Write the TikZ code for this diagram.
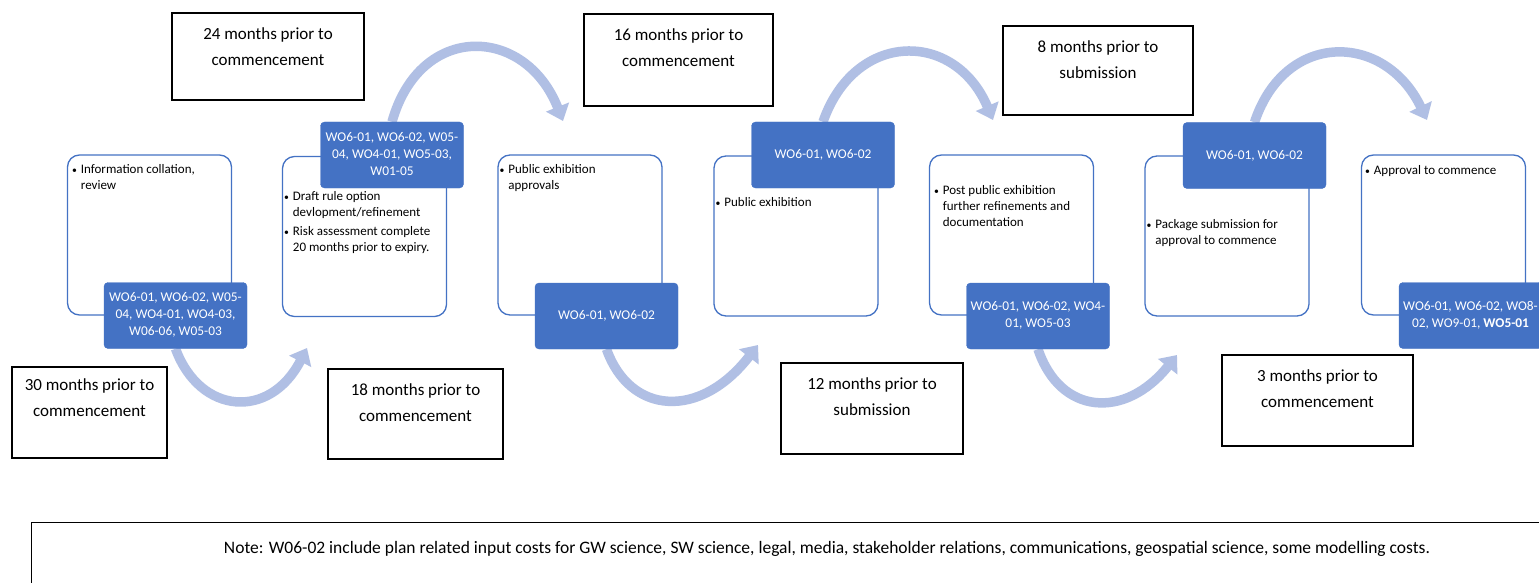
\documentclass[tikz,border=0pt]{standalone}
\usepackage{fontspec}
\setmainfont{Carlito}
\usetikzlibrary{arrows.meta}
\definecolor{obl}{HTML}{4472C4}
\definecolor{arr}{RGB}{176,191,228}
\pgfdeclarelayer{bg}
\pgfsetlayers{bg,main}
\newcommand{\bulist}[1]{\begin{tabular}{@{}l@{\hspace{4pt}}l@{}}#1\end{tabular}}
\newcommand{\bu}{\scalebox{0.75}{\textbullet}}
\newcommand{\ctab}[1]{\begin{tabular}{@{}c@{}}#1\end{tabular}}
\tikzset{
 wbox/.style={draw=obl, line width=1.3pt, rounded corners=12pt, minimum width=164pt, minimum height=160pt, inner sep=0pt, fill=white},
 bbox/.style={fill=obl, draw=obl, rounded corners=4pt, minimum width=143pt, minimum height=66pt, inner sep=0pt, text=white, font=\fontsize{13.4}{17}\selectfont},
 lbox/.style={draw=black, line width=1.2pt, inner sep=0pt, fill=white},
 ltext/.style={anchor=north, inner sep=0pt, font=\fontsize{17}{26}\selectfont},
 btext/.style={anchor=north west, inner sep=0pt, font=\fontsize{13}{16}\selectfont},
 flow/.style={draw=arr, line width=9.5pt, -{Triangle[width=24pt,length=15pt]}},
}
\begin{document}
\begin{tikzpicture}[x=1pt,y=-1pt]
\useasboundingbox (0,0) rectangle (1539,583);
\clip (0,0) rectangle (1539,583);

% white stage boxes
\node[wbox] (w1) at (149.5,235) {};
\node[wbox] (w2) at (364.5,236.5) {};
\node[wbox] (w3) at (580,235) {};
\node[wbox] (w4) at (796,236) {};
\node[wbox] (w5) at (1011.5,235) {};
\node[wbox] (w6) at (1227,236) {};
\node[wbox] (w7) at (1443.5,235) {};

% stage texts
\node[btext] (w1t) at ([shift={(5,8)}]w1.north west) {\bulist{\bu & Information collation,\\ & review}};
\node[btext] (w2t) at ([shift={(2,33)}]w2.north west) {\bulist{\bu & Draft rule option\\ & devlopment/refinement\\[3pt] \bu & Risk assessment complete\\ & 20 months prior to expiry.}};
\node[btext] (w3t) at ([shift={(2,8)}]w3.north west) {\bulist{\bu & Public exhibition\\ & approvals}};
\node[btext] (w4t) at ([shift={(2,40)}]w4.north west) {\bulist{\bu & Public exhibition}};
\node[btext] (w5t) at ([shift={(5,29)}]w5.north west) {\bulist{\bu & Post public exhibition\\ & further refinements and\\ & documentation}};
\node[btext] (w6t) at ([shift={(2,62)}]w6.north west) {\bulist{\bu & Package submission for\\ & approval to commence}};
\node[btext] (w7t) at ([shift={(4,9)}]w7.north west) {\bulist{\bu & Approval to commence}};

% blue boxes
\node[bbox] (b1) at (175.5,315.5) {\ctab{WO6-01, WO6-02, W05-\\04, WO4-01, WO4-03,\\W06-06, W05-03}};
\node[bbox] (b2) at (392,155) {\ctab{WO6-01, WO6-02, W05-\\04, WO4-01, WO5-03,\\W01-05}};
\node[bbox] (b3) at (606.5,316) {WO6-01, WO6-02};
\node[bbox] (b4) at (823,155) {WO6-01, WO6-02};
\node[bbox] (b5) at (1038,316) {\ctab{WO6-01, WO6-02, WO4-\\01, WO5-03}};
\node[bbox] (b6) at (1254.5,155.5) {WO6-01, WO6-02};
\node[bbox] (b7) at (1470.5,315.5) {\ctab{WO6-01, WO6-02, WO8-\\02, WO9-01, \textbf{WO5-01}}};

% label boxes
\node[lbox, minimum width=192pt, minimum height=87pt] (l24) at (268,56.5) {};
\node[ltext] (l24t) at ([shift={(0,9)}]l24.north) {\ctab{24 months prior to\\commencement}};
\node[lbox, minimum width=189pt, minimum height=92pt] (l16) at (678.5,60) {};
\node[ltext] (l16t) at ([shift={(0,9)}]l16.north) {\ctab{16 months prior to\\commencement}};
\node[lbox, minimum width=190pt, minimum height=89pt] (l8) at (1098,70.5) {};
\node[ltext] (l8t) at ([shift={(0,9)}]l8.north) {\ctab{8 months prior to\\submission}};
\node[lbox, minimum width=155pt, minimum height=91pt] (l30) at (89.5,412.5) {};
\node[ltext] (l30t) at ([shift={(0,6)}]l30.north) {\ctab{30 months prior to\\commencement}};
\node[lbox, minimum width=175pt, minimum height=90pt] (l18) at (415.5,414) {};
\node[ltext] (l18t) at ([shift={(0,9)}]l18.north) {\ctab{18 months prior to\\commencement}};
\node[lbox, minimum width=182pt, minimum height=91pt] (l12) at (872,408.5) {};
\node[ltext] (l12t) at ([shift={(0,9)}]l12.north) {\ctab{12 months prior to\\submission}};
\node[lbox, minimum width=191pt, minimum height=91pt] (l3) at (1317.5,400.5) {};
\node[ltext] (l3t) at ([shift={(0,9)}]l3.north) {\ctab{3 months prior to\\commencement}};

% note
\node[lbox, anchor=north west, minimum width=1530pt, minimum height=80pt] (note) at (31,522) {};
\node[inner sep=0pt, font=\fontsize{17.5}{20}\selectfont] (notet) at (827,549) {Note: W06-02 include plan related input costs for GW science, SW science, legal, media, stakeholder relations, communications, geospatial science, some modelling costs.};

% arrow tips
\coordinate (t1) at (307,348);
\coordinate (t2) at (563,121);
\coordinate (t3) at (758,345);
\coordinate (t4) at (993,120);
\coordinate (t5) at (1177,355);
\coordinate (t6) at (1427,120);

\begin{pgfonlayer}{bg}
\fill[white] (0,0) rectangle (1539,583);
\draw[flow] (b1.south) .. controls (200,415) and (270,420) .. (t1);
\draw[flow] (b2.north) .. controls (420,22) and (525,25) .. (t2);
\draw[flow] (b3.south) .. controls (630,415) and (700,420) .. (t3);
\draw[flow] (b4.north) .. controls (855,30) and (955,30) .. (t4);
\draw[flow] (b5.south) .. controls (1060,415) and (1125,420) .. (t5);
\draw[flow] (b6.north) .. controls (1285,30) and (1385,32) .. (t6);
\end{pgfonlayer}
\end{tikzpicture}
\end{document}
